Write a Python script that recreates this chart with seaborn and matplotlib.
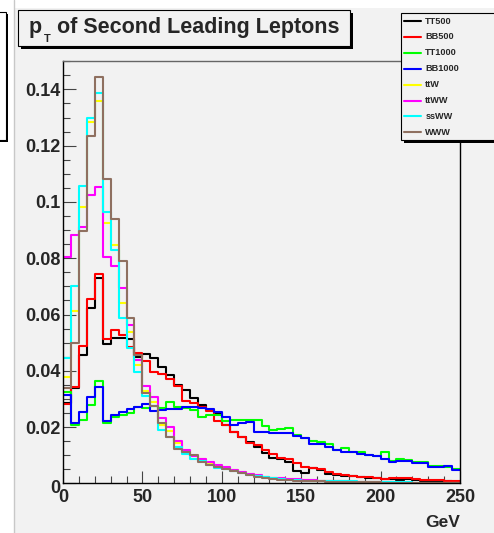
import numpy as np
import pandas as pd
import matplotlib
matplotlib.use("Agg")
import matplotlib.pyplot as plt
import matplotlib.transforms as mtransforms
from matplotlib.patches import Rectangle
from matplotlib.lines import Line2D
from matplotlib.ticker import MultipleLocator, FuncFormatter, FixedLocator
import seaborn as sns

# 5 GeV bins from 0 to 250 GeV
bin_edges = list(range(0, 255, 5))
bin_centers = [e + 2.5 for e in bin_edges[:-1]]

samples = ["TT500", "BB500", "TT1000", "BB1000", "ttW", "ttWW", "ssWW", "WWW"]
colors = ["#000000", "#ff0000", "#00ff00", "#0000ff",
          "#ffff00", "#ff00ff", "#00ffff", "#8f7060"]

tt500 = [0.0287, 0.0338, 0.0455, 0.0625, 0.0730, 0.0495, 0.0515, 0.0515, 0.0512, 0.0450,
         0.0460, 0.0447, 0.0415, 0.0385, 0.0348, 0.0333, 0.0302, 0.0280, 0.0262, 0.0250,
         0.0207, 0.0182, 0.0164, 0.0148, 0.0128, 0.0108, 0.0092, 0.0086, 0.0077, 0.0045,
         0.0037, 0.0054, 0.0048, 0.0033, 0.0031, 0.0028, 0.0026, 0.0024, 0.0019, 0.0018,
         0.0014, 0.0014, 0.0012, 0.0015, 0.0012, 0.0010, 0.0009, 0.0008, 0.0007, 0.0006]
bb500 = [0.0281, 0.0341, 0.0490, 0.0655, 0.0744, 0.0512, 0.0546, 0.0527, 0.0486, 0.0462,
         0.0434, 0.0395, 0.0390, 0.0372, 0.0346, 0.0293, 0.0285, 0.0272, 0.0258, 0.0222,
         0.0208, 0.0182, 0.0166, 0.0142, 0.0136, 0.0120, 0.0104, 0.0090, 0.0086, 0.0071,
         0.0060, 0.0055, 0.0051, 0.0039, 0.0035, 0.0030, 0.0027, 0.0023, 0.0021, 0.0020,
         0.0017, 0.0020, 0.0019, 0.0018, 0.0015, 0.0013, 0.0012, 0.0011, 0.0009, 0.0008]
tt1000 = [0.0324, 0.0207, 0.0225, 0.0278, 0.0365, 0.0216, 0.0235, 0.0243, 0.0249, 0.0272,
          0.0268, 0.0275, 0.0268, 0.0290, 0.0270, 0.0268, 0.0260, 0.0235, 0.0243, 0.0243,
          0.0223, 0.0227, 0.0227, 0.0227, 0.0224, 0.0205, 0.0190, 0.0192, 0.0197, 0.0172,
          0.0162, 0.0151, 0.0146, 0.0141, 0.0119, 0.0127, 0.0112, 0.0112, 0.0101, 0.0099,
          0.0110, 0.0079, 0.0087, 0.0083, 0.0076, 0.0076, 0.0063, 0.0062, 0.0060, 0.0050]
bb1000 = [0.0314, 0.0216, 0.0255, 0.0308, 0.0344, 0.0222, 0.0243, 0.0255, 0.0263, 0.0270,
          0.0282, 0.0258, 0.0260, 0.0263, 0.0266, 0.0270, 0.0270, 0.0268, 0.0263, 0.0252,
          0.0235, 0.0207, 0.0216, 0.0219, 0.0184, 0.0181, 0.0180, 0.0178, 0.0180, 0.0168,
          0.0160, 0.0141, 0.0141, 0.0130, 0.0117, 0.0111, 0.0110, 0.0105, 0.0100, 0.0097,
          0.0087, 0.0077, 0.0078, 0.0079, 0.0074, 0.0074, 0.0060, 0.0059, 0.0062, 0.0048]
ttw = [0.0379, 0.0612, 0.0983, 0.1283, 0.1358, 0.0924, 0.0846, 0.0640, 0.0538, 0.0420,
       0.0330, 0.0290, 0.0207, 0.0185, 0.0145, 0.0115, 0.0098, 0.0085, 0.0072, 0.0062,
       0.0055, 0.0046, 0.0040, 0.0034, 0.0028, 0.0023, 0.0020, 0.0016, 0.0014, 0.0013,
       0.0011, 0.0010, 0.0009, 0.0008, 0.0008, 0.0007, 0.0006, 0.0006, 0.0005, 0.0005,
       0.0004, 0.0004, 0.0004, 0.0003, 0.0003, 0.0003, 0.0003, 0.0002, 0.0002, 0.0002]
ttww = [0.0805, 0.0882, 0.0912, 0.1024, 0.1052, 0.0805, 0.0772, 0.0693, 0.0563, 0.0440,
        0.0346, 0.0308, 0.0231, 0.0201, 0.0150, 0.0118, 0.0098, 0.0085, 0.0076, 0.0066,
        0.0058, 0.0049, 0.0040, 0.0035, 0.0030, 0.0024, 0.0020, 0.0019, 0.0015, 0.0014,
        0.0012, 0.0011, 0.0009, 0.0009, 0.0008, 0.0007, 0.0006, 0.0006, 0.0005, 0.0005,
        0.0004, 0.0004, 0.0004, 0.0003, 0.0003, 0.0003, 0.0003, 0.0002, 0.0002, 0.0002]
ssww = [0.0444, 0.0701, 0.1056, 0.1300, 0.1388, 0.0965, 0.0829, 0.0586, 0.0480, 0.0397,
        0.0310, 0.0275, 0.0190, 0.0165, 0.0130, 0.0105, 0.0085, 0.0078, 0.0065, 0.0055,
        0.0050, 0.0044, 0.0038, 0.0031, 0.0026, 0.0022, 0.0018, 0.0014, 0.0012, 0.0012,
        0.0010, 0.0008, 0.0010, 0.0009, 0.0008, 0.0007, 0.0007, 0.0006, 0.0005, 0.0005,
        0.0005, 0.0004, 0.0004, 0.0004, 0.0003, 0.0003, 0.0003, 0.0003, 0.0002, 0.0002]
www = [0.0340, 0.0500, 0.0898, 0.1235, 0.1445, 0.1080, 0.0938, 0.0790, 0.0586, 0.0456,
       0.0320, 0.0275, 0.0214, 0.0166, 0.0124, 0.0112, 0.0100, 0.0075, 0.0066, 0.0058,
       0.0050, 0.0044, 0.0037, 0.0030, 0.0024, 0.0020, 0.0017, 0.0013, 0.0011, 0.0010,
       0.0009, 0.0008, 0.0007, 0.0006, 0.0006, 0.0005, 0.0005, 0.0004, 0.0004, 0.0004,
       0.0003, 0.0003, 0.0003, 0.0003, 0.0002, 0.0002, 0.0002, 0.0002, 0.0002, 0.0001]

series = [tt500, bb500, tt1000, bb1000, ttw, ttww, ssww, www]

y_ticks = [0, 0.02, 0.04, 0.06, 0.08, 0.1, 0.12, 0.14]
x_ticks = [0, 50, 100, 150, 200, 250]

title_text = "of Second Leading Leptons"
x_unit = "GeV"

W, H = 494, 533
BG = "#f2f2f2"

sns.set_style("ticks")
plt.rcParams["font.family"] = ["Liberation Sans", "DejaVu Sans"]
plt.rcParams["font.weight"] = "bold"

fig = plt.figure(figsize=(W / 100, H / 100), dpi=100)
fig.patch.set_facecolor("#ffffff")

# pixel coordinates measured from the top-left corner of the canvas
px = mtransforms.Affine2D().scale(1 / W, -1 / H).translate(0, 1) + fig.transFigure

# grey pad area behind the plot
fig.add_artist(Rectangle((14, 8), W, H, transform=px, facecolor=BG,
                         edgecolor="none", zorder=0))

ax_l, ax_r, ax_t, ax_b = 63, 460, 61, 483.4
ax = fig.add_axes([ax_l / W, 1 - ax_b / H, (ax_r - ax_l) / W, (ax_b - ax_t) / H])
ax.set_facecolor(BG)

for vals, col in zip(series, colors):
    df = pd.DataFrame({"pt": bin_centers, "frac": vals})
    sns.histplot(data=df, x="pt", weights="frac", bins=bin_edges, element="step",
                 fill=False, color=col, linewidth=1.5, ax=ax)

ax.set_xlim(0, 250)
ax.set_ylim(0, 0.1501)
ax.set_xlabel("")
ax.set_ylabel("")

ax.xaxis.set_major_locator(FixedLocator(x_ticks))
ax.xaxis.set_minor_locator(MultipleLocator(10))
ax.yaxis.set_major_locator(FixedLocator(y_ticks))
ax.yaxis.set_minor_locator(MultipleLocator(0.005))
ax.yaxis.set_major_formatter(FuncFormatter(lambda v, p: "%g" % round(v, 3)))
ax.xaxis.set_major_formatter(FuncFormatter(lambda v, p: "%d" % v))

ax.tick_params(which="both", direction="in", top=False, right=False,
               color="#444444", width=0.8)
ax.tick_params(axis="y", which="major", length=9.3, pad=1.8, labelsize=13)
ax.tick_params(axis="y", which="minor", length=4.8)
ax.tick_params(axis="x", which="major", length=8.4, pad=4, labelsize=13)
ax.tick_params(axis="x", which="minor", length=4.8)

for side in ["left", "bottom", "right"]:
    ax.spines[side].set_color("#000000")
    ax.spines[side].set_linewidth(1.0)
ax.spines["top"].set_color("#666666")
ax.spines["top"].set_linewidth(1.0)

# shift the zero label on the y axis slightly down
fig.canvas.draw()
zero_lab = ax.yaxis.get_major_ticks()[0].label1
zero_lab.set_transform(zero_lab.get_transform() +
                       mtransforms.ScaledTranslation(0, -3 / 100, fig.dpi_scale_trans))

fig.text(460, 527, x_unit, transform=px, ha="right", va="baseline",
         fontsize=12.5, fontweight="bold")


def shadow_box(x0, y0, w, h, off=3, face=BG):
    fig.add_artist(Rectangle((x0 + off, y0 + off), w, h, transform=px,
                             facecolor="#000000", edgecolor="none", zorder=5))
    fig.add_artist(Rectangle((x0, y0), w, h, transform=px, facecolor=face,
                             edgecolor="#000000", linewidth=0.8, zorder=6))


# edge of the neighbouring pad on the left
fig.add_artist(Line2D([14, 14], [0, H], transform=px, color="#c8c8c8", lw=1))
shadow_box(-20, 12, 26, 128, off=2, face="#ffffff")

# title box
shadow_box(18, 10, 332, 36, off=3)
fig.text(29, 33, "p", transform=px, ha="left", va="baseline",
         fontsize=15.5, fontweight="bold", zorder=7)
fig.text(44, 42, "T", transform=px, ha="left", va="baseline",
         fontsize=8, fontweight="bold", zorder=7)
fig.text(57, 33, title_text, transform=px, ha="left", va="baseline",
         fontsize=15.5, fontweight="bold", zorder=7)

# legend box
shadow_box(401, 13, 110, 127, off=3)
row_y0, row_dy = 21, 15.9
for i, (name, col) in enumerate(zip(samples, colors)):
    yy = row_y0 + i * row_dy
    fig.add_artist(Line2D([404, 420.5], [yy, yy], transform=px, color=col,
                          lw=1.5, zorder=7))
    fig.text(425.3, yy, name, transform=px, ha="left", va="center",
             fontsize=6.6, fontweight="bold", zorder=7)

fig.savefig("out.png", dpi=100, facecolor=fig.get_facecolor())
